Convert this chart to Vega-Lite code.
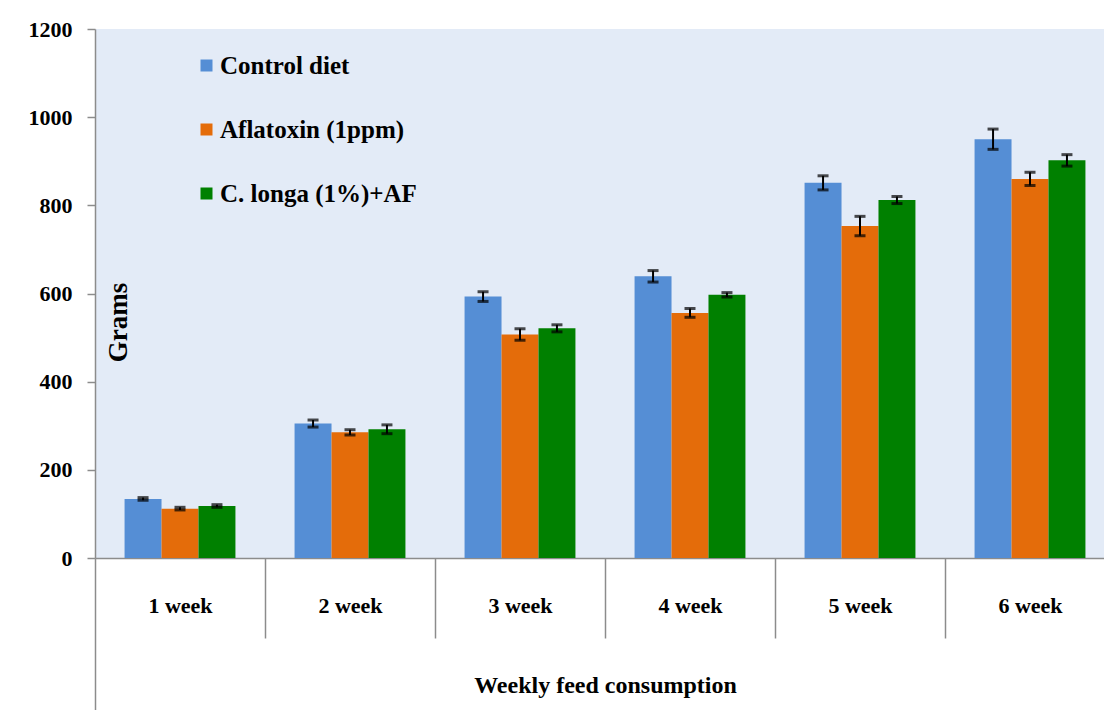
{
  "$schema": "https://vega.github.io/schema/vega-lite/v6.json",
  "autosize": {"type": "none"},
  "width": 1020,
  "height": 529,
  "padding": {"left": 95, "top": 29, "right": 0, "bottom": 152},
  "background": "white",
  "config": {
    "font": "Liberation Serif",
    "view": {"fill": "#e3ebf7", "stroke": null}
  },
  "data": {
    "values": [
      {"week": "1 week", "group": "Control diet", "value": 134, "sd": 3},
      {"week": "1 week", "group": "Aflatoxin (1ppm)", "value": 112, "sd": 3},
      {"week": "1 week", "group": "C. longa (1%)+AF", "value": 118, "sd": 3},
      {"week": "2 week", "group": "Control diet", "value": 305, "sd": 8},
      {"week": "2 week", "group": "Aflatoxin (1ppm)", "value": 285, "sd": 6},
      {"week": "2 week", "group": "C. longa (1%)+AF", "value": 292, "sd": 10},
      {"week": "3 week", "group": "Control diet", "value": 593, "sd": 11},
      {"week": "3 week", "group": "Aflatoxin (1ppm)", "value": 507, "sd": 13},
      {"week": "3 week", "group": "C. longa (1%)+AF", "value": 521, "sd": 8},
      {"week": "4 week", "group": "Control diet", "value": 639, "sd": 13},
      {"week": "4 week", "group": "Aflatoxin (1ppm)", "value": 556, "sd": 10},
      {"week": "4 week", "group": "C. longa (1%)+AF", "value": 597, "sd": 5},
      {"week": "5 week", "group": "Control diet", "value": 851, "sd": 16},
      {"week": "5 week", "group": "Aflatoxin (1ppm)", "value": 753, "sd": 22},
      {"week": "5 week", "group": "C. longa (1%)+AF", "value": 812, "sd": 8},
      {"week": "6 week", "group": "Control diet", "value": 950, "sd": 23},
      {"week": "6 week", "group": "Aflatoxin (1ppm)", "value": 860, "sd": 15},
      {"week": "6 week", "group": "C. longa (1%)+AF", "value": 902, "sd": 13}
    ]
  },
  "encoding": {
    "x": {
      "field": "week",
      "type": "nominal",
      "sort": null,
      "scale": {"paddingInner": 0, "paddingOuter": 0},
      "axis": {
        "title": "Weekly feed consumption",
        "titleFontSize": 24,
        "titleFontWeight": "bold",
        "titleColor": "black",
        "titleX": 510,
        "titleY": 127,
        "titleBaseline": "middle",
        "labelAngle": 0,
        "labelFontSize": 22,
        "labelFontWeight": "bold",
        "labelColor": "black",
        "labelPadding": -43,
        "tickBand": "extent",
        "tickSize": {"condition": {"test": "datum.extra", "value": 152}, "value": 80},
        "tickColor": "#8c8c8c",
        "tickWidth": 1.5,
        "domainColor": "#8c8c8c",
        "domainWidth": 1.5
      }
    },
    "xOffset": {
      "field": "group",
      "type": "nominal",
      "sort": null,
      "scale": {"paddingInner": 0, "paddingOuter": 0.8}
    },
    "y": {
      "field": "value",
      "type": "quantitative",
      "scale": {"domain": [0, 1200]},
      "axis": {
        "title": "Grams",
        "titleFontSize": 27,
        "titleFontWeight": "bold",
        "titleColor": "black",
        "titleX": 23,
        "titleY": 293,
        "titleAngle": -90,
        "titleBaseline": "middle",
        "titleAlign": "center",
        "values": [0, 200, 400, 600, 800, 1000, 1200],
        "format": "d",
        "labelFontSize": 22,
        "labelFontWeight": "bold",
        "labelColor": "black",
        "labelPadding": 15,
        "tickSize": 8,
        "tickColor": "#8c8c8c",
        "tickWidth": 1.5,
        "domainColor": "#8c8c8c",
        "domainWidth": 1.5,
        "grid": false
      }
    }
  },
  "layer": [
    {
      "mark": {"type": "bar"},
      "encoding": {
        "color": {
          "field": "group",
          "type": "nominal",
          "sort": null,
          "scale": {"range": ["#558ed5", "#e46c0a", "#008000"]},
          "legend": {
            "title": null,
            "orient": "none",
            "legendX": 99,
            "legendY": 24,
            "symbolType": "square",
            "symbolSize": 144,
            "symbolOpacity": 1,
            "symbolStrokeWidth": 0,
            "labelFontSize": 25,
            "labelFontWeight": "bold",
            "labelColor": "black",
            "labelOffset": 1,
            "rowPadding": 38,
            "labelLimit": 400
          }
        }
      }
    },
    {
      "mark": {"type": "errorbar", "ticks": {"size": 11, "thickness": 3, "color": "black"}, "rule": {"strokeWidth": 2, "color": "black"}},
      "encoding": {
        "y": {"field": "value", "type": "quantitative", "title": "Grams"},
        "yError": {"field": "sd"}
      }
    }
  ]
}
